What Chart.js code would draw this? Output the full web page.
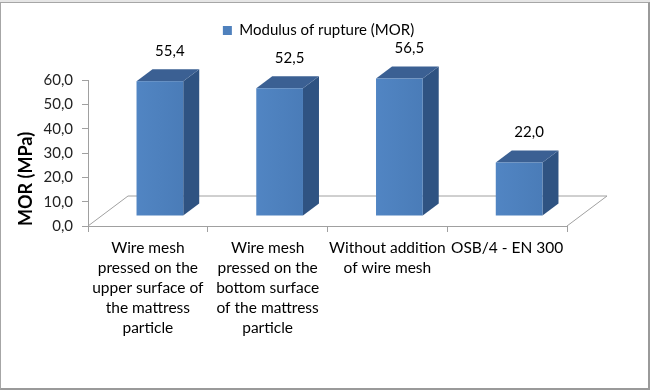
<!DOCTYPE html>
<html>
<head>
<meta charset="utf-8">
<script src="https://cdn.jsdelivr.net/npm/chart.js@4/dist/chart.umd.min.js"></script>
<style>
  html, body { margin: 0; padding: 0; background: #fff; }
  #wrap { position: relative; width: 650px; height: 390px; background: #fff; }
  #frame {
    position: absolute; left: 0; top: 2px; width: 650px; height: 388px;
    box-sizing: border-box; border: 1px solid #a6a6a6;
    border-right: 2px solid #9a9a9a; border-bottom: 2px solid #9a9a9a;
    pointer-events: none;
  }
  #strip { position: absolute; left: 0; top: 0; width: 650px; height: 2px; background: #e6e6e6; }
</style>
</head>
<body>
<div id="wrap">
  <canvas id="morChart"></canvas>
  <div id="strip"></div>
  <div id="frame"></div>
</div>
<script>
// Datos del gráfico
const categories = [
  ["Wire mesh", "pressed on the", "upper surface of", "the mattress", "particle"],
  ["Wire mesh", "pressed on the", "bottom surface", "of the mattress", "particle"],
  ["Without addition", "of wire mesh"],
  ["OSB/4 - EN 300"]
];
const morValues = [55.4, 52.5, 56.5, 22.0];
const seriesName = "Modulus of rupture (MOR)";
const yTicks = [0, 10, 20, 30, 40, 50, 60];

const FONT = "Lato, 'Open Sans', sans-serif";
const fmt = v => v.toFixed(1).replace(".", ",");

// Efecto 3D: suelo y barras con caras laterales
const depth3d = {
  id: "depth3d",
  afterLayout(chart) {
    // colocar la leyenda como en Excel
    const lg = chart.legend;
    const d = lg.top - 13;
    lg.top -= d;
    lg.bottom -= d;
    lg.left += 35;
    lg.right += 35;
  },
  beforeDatasetsDraw(chart) {
    const ctx = chart.ctx;
    const a = chart.chartArea;
    const fx = 40, fy = -30;
    ctx.save();
    ctx.strokeStyle = "#a0a0a0";
    ctx.lineWidth = 1;
    ctx.beginPath();
    ctx.moveTo(a.left, a.bottom);
    ctx.lineTo(a.left + fx, a.bottom + fy);
    ctx.lineTo(a.right + fx, a.bottom + fy);
    ctx.lineTo(a.right, a.bottom);
    ctx.stroke();

    const meta = chart.getDatasetMeta(0);
    const ox = 12, oy = -10, dx = 16, dy = -12;
    meta.data.forEach((bar, i) => {
      const w = bar.width;
      const l = bar.x - w / 2 + ox;
      const r = l + w;
      const t = bar.y + oy;
      const b = bar.base + oy;
      // cara lateral
      ctx.fillStyle = "#2f5382";
      ctx.beginPath();
      ctx.moveTo(r, t);
      ctx.lineTo(r + dx, t + dy);
      ctx.lineTo(r + dx, b + dy);
      ctx.lineTo(r, b);
      ctx.closePath();
      ctx.fill();
      // cara superior
      ctx.fillStyle = "#3b6093";
      ctx.beginPath();
      ctx.moveTo(l, t);
      ctx.lineTo(l + dx, t + dy);
      ctx.lineTo(r + dx, t + dy);
      ctx.lineTo(r, t);
      ctx.closePath();
      ctx.fill();
      // cara frontal
      const g = ctx.createLinearGradient(l, 0, r, 0);
      g.addColorStop(0, "#5185c3");
      g.addColorStop(1, "#4a7cb8");
      ctx.fillStyle = g;
      ctx.fillRect(l, t, w, b - t);
      // etiqueta de valor
      ctx.fillStyle = "#000";
      ctx.font = "15px " + FONT;
      ctx.textAlign = "center";
      ctx.textBaseline = "middle";
      ctx.fillText(fmt(morValues[i]), (l + r) / 2 + 10, t + dy - 18);
    });
    ctx.restore();
    return false;
  }
};

window.onload = () => {
  const ctx = document.getElementById("morChart").getContext("2d");
  new Chart(ctx, {
    type: "bar",
    data: {
      labels: categories,
      datasets: [{
        label: seriesName,
        data: morValues,
        backgroundColor: "#4F81BD",
        borderWidth: 0,
        barPercentage: 0.39,
        categoryPercentage: 1
      }]
    },
    options: {
      responsive: true,
      maintainAspectRatio: false,
      animation: false,
      layout: { padding: { left: 0, right: 83, top: 45, bottom: 46 } },
      plugins: {
        legend: {
          display: true,
          position: "top",
          labels: {
            boxWidth: 9,
            boxHeight: 9,
            color: "#000",
            font: { family: FONT, size: 15 },
            padding: 10
          }
        },
        tooltip: { enabled: false }
      },
      scales: {
        x: {
          offset: true,
          border: { display: true, color: "#a0a0a0" },
          grid: { display: true, drawOnChartArea: false, color: "#a0a0a0", tickLength: 6, offset: true },
          ticks: {
            color: "#000",
            maxRotation: 0,
            autoSkip: false,
            padding: 6,
            font: { family: FONT, size: 15.5, lineHeight: "20px" }
          }
        },
        y: {
          min: 0,
          max: 60,
          afterFit: s => { s.width = 88; },
          afterBuildTicks: s => { s.ticks = yTicks.map(v => ({ value: v })); },
          border: { display: true, color: "#a0a0a0" },
          grid: { display: true, drawOnChartArea: false, color: "#a0a0a0", tickLength: 6 },
          ticks: {
            color: "#222",
            padding: 9,
            font: { family: FONT, size: 15 },
            callback: v => fmt(v)
          },
          title: {
            display: true,
            text: "MOR (MPa)",
            align: "start",
            color: "#000",
            font: { family: FONT, size: 18, weight: "bold" },
            padding: { top: 15, bottom: 0 }
          }
        }
      }
    },
    plugins: [depth3d]
  });
};
</script>
</body>
</html>
